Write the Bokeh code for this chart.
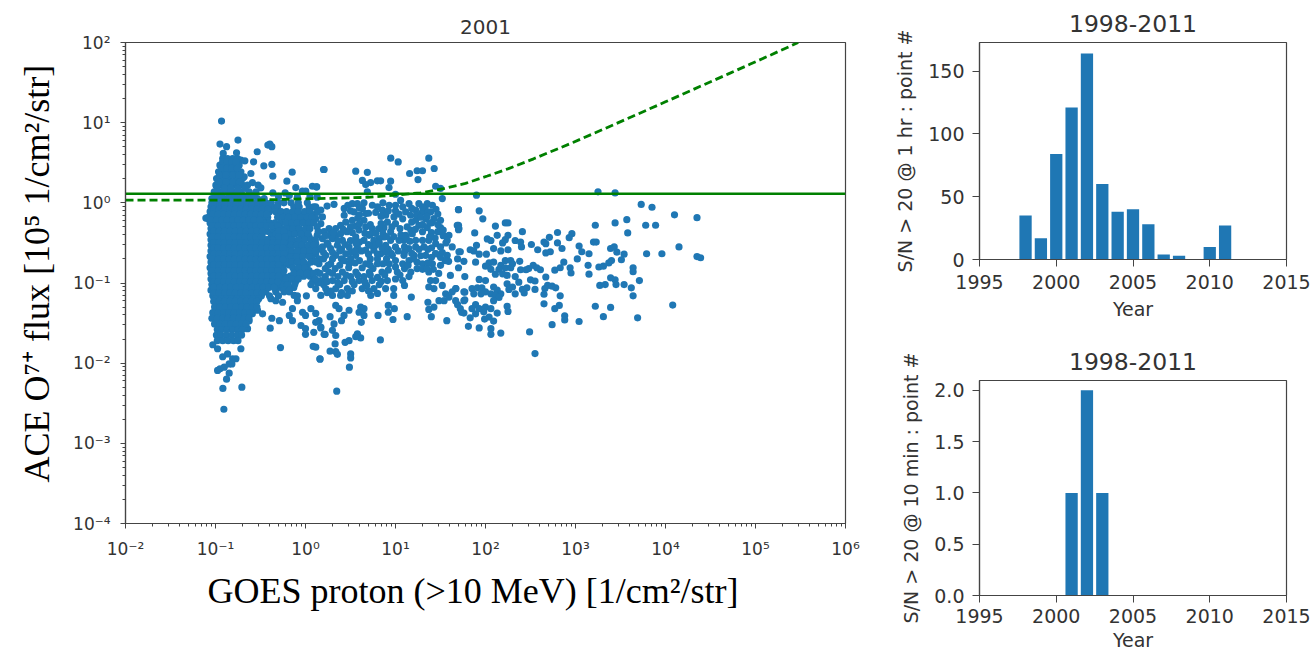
from bokeh.embed import file_html
from bokeh.resources import INLINE
from bokeh.plotting import figure
from bokeh.layouts import row, column
from bokeh.models import Range1d, Title, FixedTicker

# Values; scatter values are stored as log10(value).
title_main = "2001"
xlabel_main = "GOES proton (>10 MeV) [1/cm²/str]"
ylabel_main = "ACE O⁷⁺ flux [10⁵ 1/cm²/str]"
title_side = "1998-2011"
ylabel_top = "S/N > 20 @ 1 hr : point #"
ylabel_bottom = "S/N > 20 @ 10 min : point #"
xlabel_side = "Year"

years = [1998, 1999, 2000, 2001, 2002, 2003, 2004, 2005, 2006, 2007, 2008, 2009, 2010, 2011]
counts_1hr = [35, 17, 84, 121, 164, 60, 38, 40, 28, 4, 3, 0, 10, 27]
counts_10min = [0, 0, 0, 1, 2, 1, 0, 0, 0, 0, 0, 0, 0, 0]

threshold_x = [0.01, 1e6]
threshold_y = [1.3, 1.3]
fit_x = [0.01, 0.25, 4.9, 19, 34, 60, 105, 180, 342, 600, 950, 2000, 4400, 10000, 24400, 50000, 87700, 150000, 298000]
fit_y = [1.08, 1.08, 1.17, 1.33, 1.5, 1.75, 2.16, 2.67, 3.54, 4.6, 5.7, 8.2, 12.1, 18.2, 28.4, 40.6, 53.8, 70.4, 100]

right_cloud = [
(3.25,.137),(3.44,.124),(1.90,.095),(3.73,-.02),(3.85,-.055),(4.10,-.15),(4.35,-.185),(1.70,-.085),(1.93,-.10),(1.97,-.20),
(3.22,-.28),(3.44,-.25),(3.57,-.21),(3.78,-.28),(3.89,-.28),(3.58,-.375),(2.11,-.29),(2.22,-.25),(2.25,-.25),(2.41,-.36),
(1.88,-.375),(1.70,-.28),(1.70,-.335),(2.13,-.405),(2.25,-.405),(2.80,-.37),(2.71,-.43),(2.96,-.385),(2.93,-.435),(2.65,-.49),
(2.67,-.51),(2.80,-.50),(2.85,-.57),(2.51,-.52),(2.58,-.585),(3.20,-.49),(3.23,-.49),(3.04,-.54),(3.39,-.57),(3.43,-.55),
(3.46,-.615),(3.54,-.64),(3.51,-.71),(4.15,-.55),(3.79,-.635),(3.96,-.635),(4.35,-.67),(4.39,-.685),(3.07,-.61),(3.15,-.635),
(3.02,-.70),(2.67,-.625),(2.72,-.61),(3.14,-.78),(3.26,-.80),(3.31,-.79),(3.37,-.75),(3.40,-.72),(3.64,-.81),(3.64,-.86),
(2.94,-.81),(2.95,-.875),(2.87,-.74),(2.83,-.81),(2.77,-.84),(3.15,-.89),(3.71,-.97),(3.39,-.935),(3.44,-.96),(3.45,-1.02),
(3.54,-1.02),(3.27,-1.03),(3.33,-1.02),(3.62,-1.06),(3.64,-1.16),(2.67,-.925),(2.69,-1.03),(2.74,-1.04),(2.78,-1.06),(2.66,-1.07),
(2.65,-1.14),(2.83,-1.16),(2.65,-1.26),(2.82,-1.28),(2.77,-1.32),(3.22,-1.29),(3.39,-1.305),(4.08,-1.275),(3.31,-1.42),(3.69,-1.435),
(2.88,-1.41),(2.88,-1.46),(3.04,-1.48),(2.74,-1.52),(2.49,-1.61),(2.55,-1.88),(2.17,-1.625),(2.06,-1.57),(2.06,-1.64),(1.93,-1.56),
(1.81,-1.54),(2.02,-.45),(2.06,-.47),(2.09,-.57),(2.17,-.60),(2.25,-.585),(2.19,-.50),(2.22,-.46),(2.33,-.47),(2.39,-.49),
(2.40,-.55),(1.90,-.53),(1.83,-.585),(1.87,-.60),(1.93,-.64),(2.01,-.64),(1.89,-.74),(1.72,-.61),(1.76,-.73),(1.69,-.70),
(1.70,-.81),(1.77,-.92),(2.38,-.73),(2.04,-.75),(2.09,-.74),(2.0,-.79),(2.17,-.78),(2.22,-.72),(2.28,-.72),(2.30,-.76),
(2.22,-.81),(2.15,-.83),(2.06,-.83),(2.11,-.89),(2.19,-.885),(2.24,-.905),(2.28,-.81),(2.39,-.835),(2.45,-.835),(2.53,-.78),
(2.57,-.81),(2.48,-.82),(2.61,-.835),(1.93,-.955),(2.0,-.97),(2.33,-.92),(2.37,-.99),(2.50,-.96),(2.55,-.975),(2.24,-1.01),
(2.30,-1.05),(2.26,-1.08),(2.33,-1.135),(2.41,-1.08),(2.46,-1.06),(2.55,-1.08),(2.43,-1.125),(1.85,-1.07),(1.91,-1.06),(1.96,-1.06),
(2.09,-1.05),(2.13,-1.09),(2.17,-1.135),(2.0,-1.11),(2.06,-1.135),(2.11,-1.155),(2.15,-1.18),(1.95,-1.135),(1.87,-1.135),(1.77,-1.115),
(1.77,-1.21),(1.67,-1.07),(2.09,-1.22),(1.69,-1.27),(1.72,-1.32),(1.76,-1.375),(1.89,-1.27),(1.85,-1.32),(1.93,-1.32),(2.0,-1.30),
(2.06,-1.32),(2.13,-1.375),(1.98,-1.36),(1.89,-1.385),(1.83,-1.435),(2.04,-1.425),(2.09,-1.475),(1.99,-1.45),(2.24,-1.29),(2.25,-1.355),
]

middle_cloud = [
(.947,.557),(1.03,.51),(1.37,.557),(.207,.416),(.558,.395),(.687,.38),(1.157,.366),(1.24,.40),(1.30,.40),(1.43,.428),
(1.25,.29),(.632,.28),(.669,.228),(.724,.253),(.798,.274),(.835,.274),(.946,.27),(.928,.19),(.687,.137),(.125,.2),
(1.446,.207),(1.50,.18),(1.0,.107),(1.057,.03),(1.52,.053),(.317,-.018),(1.70,-.084),
(.114,-.05),(.17,-.09),(.188,-.176),(.114,-.197),(.17,-.26),(.43,-.07),(.43,-.155),(.447,-.24),(.39,-.28),(.336,-.32),(.262,-.32),
(.206,-.36),(.262,-.405),(.336,-.405),(.39,-.385),(.188,-.446),(.299,-.446),(.13,-.405),(.52,-.01),(.576,-.01),(.54,-.113),
(.632,-.07),(.743,-.03),(.854,-.09),(.669,-.134),(.65,-.217),(.669,-.30),(.558,-.29),(.595,-.34),(.891,-.155),(.91,-.24),
(.872,-.31),(.743,-.32),(.817,-.32),(.983,-.176),(1.0,-.26),(.946,-.36),(1.113,-.113),(1.168,-.155),(1.224,-.09),(1.15,-.01),
(1.26,-.01),(1.353,-.01),(1.41,-.03),(1.30,-.113),(1.39,-.113),(1.335,-.197),(1.427,-.197),(1.50,-.217),(1.224,-.217),(1.26,-.28),
(1.353,-.31),(1.30,-.36),(1.13,-.30),(1.113,-.405),(1.187,-.385),(1.094,-.468),(1.224,-.468),(1.594,-.405),(1.575,-.468),(1.63,-.55),
(1.705,-.61),(1.686,-.28),(1.705,-.32),(1.50,-.31),(1.30,-.468),(1.37,-.468),(1.446,-.51),(1.316,-.55),(1.446,-.635),(1.224,-.55),
(1.15,-.57),(1.04,-.468),(1.0,-.55),(.946,-.468),(.87,-.425),(.891,-.53),(.817,-.446),(.76,-.468),(.706,-.405),(.65,-.468),
(.558,-.425),(.484,-.55),(.576,-.55),(.41,-.468),(.447,-.635),(.354,-.53),(.28,-.57),(.188,-.55),(.114,-.51),(.114,-.635),
(.669,-.59),(.76,-.59),(.835,-.635),(.965,-.655),(1.094,-.655),(1.205,-.655),(1.335,-.655),(1.575,-.655),(.336,-.655),(.225,-.655),(.558,-.655),
(.15,-.76),(.28,-.76),(.485,-.76),(.67,-.76),(.80,-.76),(.93,-.76),(1.08,-.76),(1.30,-.76),(1.41,-.76),
(.13,-.863),(.26,-.863),(.41,-.863),(.56,-.863),(.71,-.863),(.85,-.863),(1.02,-.863),(1.17,-.863),(1.37,-.863),
(.17,-.97),(.30,-.97),(.43,-.97),(.595,-.97),(.74,-.97),(.91,-.97),(1.08,-.97),(1.39,-.97),
(.114,-1.07),(.225,-1.07),(.336,-1.07),(.465,-1.07),(.63,-1.07),(.76,-1.07),(.89,-1.07),(.98,-1.07),
(.17,-1.155),(.30,-1.155),(.39,-1.155),(.465,-1.155),(.725,-1.155),(.98,-1.155),
(1.10,-1.03),(1.176,-1.176),(1.59,-.73),(1.446,-.634),(1.61,-.905),(1.446,-.97),(1.37,-1.05),(1.427,-1.07),(1.52,-1.03),(1.67,-1.07),
(1.557,-1.135),(1.63,-1.11),(1.483,-1.22),(1.54,-1.22),(1.594,-1.176),(1.668,-1.22),(1.76,-1.11),(1.76,-1.22),(1.36,-1.24),(1.37,-1.33),
(1.427,-1.30),(1.398,-1.42),(1.735,-1.365),(1.57,-1.47),(1.13,-1.42),(.972,-1.455),(.987,-1.32),(.92,-1.28),(.92,-1.365),(.806,-1.405),
(.613,-1.30),(.65,-1.32),(.595,-1.365),(.65,-1.405),(.62,-1.49),(.484,-1.34),(.428,-1.405),(.40,-1.47),(.336,-1.28),(.373,-1.32),
(.273,-1.42),(.317,-1.51),(.299,-1.59),(.218,-1.64),(.336,-1.655),(.577,-1.635),(.613,-1.685),(.558,-1.67),(.832,-1.71),(.484,-1.72),
(.44,-1.74),(.329,-1.76),(.273,-1.85),(.336,-1.855),(.354,-1.89),(.162,-1.95),(.502,-1.885),(.502,-1.935),(.488,-2.05),(.347,-2.35),
(.114,-1.38),(.151,-1.47),(.17,-1.56),(.114,-1.80),
]

middle_fill = [
(.50,-.10),(.58,-.19),(.52,-.22),(.60,-.26),(.50,-.30),(.46,-.36),(.52,-.37),(.66,-.38),(.72,-.39),(.78,-.38),(.86,-.38),(.70,-.13),
(.72,-.27),(.92,-.10),(1.0,-.10),(1.0,-.03),(.86,-.0),(.93,-.03),(1.08,-.05),(1.08,-.2),(1.04,-.14),(1.18,-.07),(1.18,-.24),(1.24,-.15),
(1.28,-.18),(1.33,-.06),(1.36,-.12),(1.45,-.08),(1.47,-.14),(1.40,-.25),(1.47,-.27),(1.40,-.37),(1.47,-.36),(1.53,-.41),
(.2,-.62),(.3,-.62),(.4,-.58),(.5,-.62),(.5,-.47),(.6,-.49),(.62,-.6),(.72,-.53),(.78,-.53),(.85,-.56),(.92,-.58),(.95,-.63),(1.03,-.6),
(1.1,-.55),(1.16,-.48),(1.18,-.63),(1.26,-.58),(1.36,-.58),(1.4,-.56),(1.5,-.55),(1.52,-.62),(1.55,-.72),(1.5,-.78),(.2,-.7),(.3,-.7),
(.4,-.7),(.5,-.7),(.6,-.72),(.72,-.7),(.8,-.7),(.9,-.7),(1.0,-.72),(1.15,-.72),(1.24,-.74),(1.36,-.75),(.22,-.82),(.33,-.82),(.48,-.81),
(.63,-.81),(.75,-.82),(.92,-.84),(1.1,-.82),(1.24,-.82),(1.3,-.83),(.22,-.92),(.36,-.92),(.5,-.92),(.65,-.92),(.8,-.93),(1.0,-.95),
(.2,-1.02),(.38,-1.02),(.54,-1.02),(.68,-1.03),(.82,-1.02),(.24,-1.12),(.4,-1.12),(.8,-1.13),
(.13,-.30),(.13,-.12),(.24,-.04),(.14,-.36),(.22,-.41),(.31,-.37),(.42,-.33),(.47,-.03),(.60,-.06),(.65,.0),(.80,-.05),(.78,-.12),
(.84,-.17),(.60,-.15),(.84,-.26),(.96,-.3),(1.05,-.32),(1.06,-.4),(.98,-.42),(.9,-.42),(.82,-.5),(.7,-.52),(.56,-.5),(.44,-.52),
(.36,-.47),(.24,-.5),(.14,-.58),(.25,-.52),(.38,-.6),(.55,-.6),(.7,-.64),(.8,-.64),(.9,-.62),(1.1,-.62),(1.28,-.66),(1.4,-.68),
(1.5,-.68),(.15,-.7),(.25,-.78),(.38,-.78),(.43,-.72),(.55,-.75),(.72,-.78),(.86,-.76),(1.0,-.8),(1.14,-.78),(1.2,-.7),(1.35,-.82),
(1.42,-.83),(1.48,-.88),(.16,-.88),(.3,-.88),(.45,-.9),(.58,-.9),(.72,-.9),(.88,-.9),(1.05,-.9),(1.15,-.92),(.24,-.98),(.36,-1.0),
(.52,-.98),(.66,-.99),(.84,-.98),(.14,-1.0),(.28,-1.1),(.52,-1.1),(.7,-1.1),(1.12,-.42),(1.3,-.27),(1.38,-.25),(1.3,-.05),(1.35,-.17),
(1.17,-.34),(1.22,-.33),(1.44,-.44),(1.38,-.42),(1.53,-.34),(1.56,-.5),
]

center_fill = [
(-.18,-.145),(-.10,-.145),(-.02,-.145),(.07,-.145),(-.17,-.215),(-.09,-.215),(-.01,-.215),(.06,-.215),(-.18,-.285),(-.11,-.285),
(.02,-.285),(-.16,-.355),(-.09,-.355),(-.02,-.355),(-.17,-.425),(-.03,-.425),(.04,-.425),(-.18,-.495),
(-.11,-.495),(-.04,-.495),(.09,-.495),(-.19,-.565),(-.07,-.565),(0,-.565),(.06,-.565),(-.18,-.635),
(-.12,-.635),(-.06,-.635),(.01,-.635),(.08,-.635),(-.18,-.705),(-.12,-.705),(-.06,-.705),(.08,-.705),(-.24,-.775),
(-.18,-.775),(-.05,-.775),(.02,-.775),(-.24,-.845),(-.10,-.845),(-.03,-.845),(.04,-.845),(-.24,-.915),(-.17,-.915),
(-.09,-.915),(-.02,-.915),(.05,-.915),(-.25,-.985),(-.19,-.985),(-.11,-.985),(.08,-.985),(-.27,-1.055),(-.20,-1.055),(-.13,-1.055),
(-.42,-.355),(-.36,-.39),(-.38,-.42),(-.42,-.46),(-.36,-.33),(-.42,-.18),(-.42,-.25),
]

left_top = [
(-.933,1.02),(-.95,.733),(-.877,.70),(-.75,.783),(-.766,.624),(-.537,.637),(-.418,.72),(-.396,.733),(-.374,.70),(-.914,.616),
(-.718,.532),(-.674,.524),(-.577,.512),(-.463,.462),(-.374,.48),(-.607,.366),(-.363,.333),(-.148,.383),(-.207,.27),(.20,.416),
(-.589,.253),(-.526,.22),(-.496,.187),(-.108,.19),(-.363,.124),(.077,.207),(.122,.2),(-.034,.145),(.003,.145),(-.226,.124),(-.681,.324),
(-.92,.553),(-.866,.553),(-.81,.553),(-.755,.553),
(-.951,.47),(-.903,.47),(-.848,.47),(-.79,.47),(-.737,.47),(-.92,.51),(-.87,.51),(-.82,.51),(-.77,.51),
(-.966,.387),(-.903,.387),(-.848,.387),(-.79,.387),(-.718,.387),(-.93,.43),(-.875,.43),(-.82,.43),(-.76,.43),
(-.988,.303),(-.92,.303),(-.848,.303),(-.773,.303),(-.70,.303),(-.955,.345),(-.885,.345),(-.81,.345),(-.74,.345),
(-.996,.22),(-.92,.22),(-.848,.22),(-.773,.22),(-.70,.22),(-.644,.22),(-.96,.26),(-.885,.26),(-.81,.26),(-.735,.26),
(-1.014,.137),(-.94,.137),(-.866,.137),(-.79,.137),(-.718,.137),(-.626,.137),(-.55,.137),(-.98,.18),(-.90,.18),(-.83,.18),(-.75,.18),(-.67,.18),
(-1.04,.053),(-.977,.053),(-.903,.053),(-.829,.053),(-.755,.053),(-.68,.053),(-.607,.053),(-.533,.053),(-.459,.053),
(-1.0,.095),(-.93,.095),(-.85,.095),(-.78,.095),(-.70,.095),(-.63,.095),(-.57,.095),
(-.30,.08),(-.18,.09),(-.09,.07),(.05,.08),(.13,.07),
]

left_rows_ly = [.0, -.05, -.11, -.18, -.25, -.32, -.39, -.46, -.53, -.60, -.67, -.74, -.81, -.88, -.95, -1.02, -1.09, -1.16]
left_rows_lx = [
[-1.04,-.98,-.92,-.86,-.80,-.74,-.68,-.62,-.56,-.50,-.44,-.38,-.30,-.24,-.16,-.08,.02],
[-1.05,-.99,-.93,-.87,-.81,-.75,-.69,-.63,-.57,-.51,-.45,-.37,-.31,-.13,-.07,.04,.09],
[-1.06,-1.0,-.94,-.88,-.82,-.76,-.70,-.64,-.58,-.52,-.46,-.40,-.33,-.27,-.21,-.14,-.08,-.01,.05],
[-1.08,-1.02,-.96,-.90,-.84,-.78,-.72,-.66,-.60,-.54,-.48,-.31,-.25,-.19,-.12,-.05,.02,.07],
[-1.06,-1.0,-.94,-.88,-.82,-.76,-.70,-.64,-.58,-.52,-.46,-.40,-.34,-.28,-.22,-.15,-.09,-.03,.04,.09],
[-1.05,-.99,-.93,-.87,-.81,-.75,-.69,-.63,-.57,-.51,-.45,-.33,-.27,-.21,-.14,-.07,.0,.05],
[-1.06,-1.0,-.94,-.88,-.82,-.76,-.70,-.64,-.58,-.52,-.48,-.33,-.26,-.19,-.12,-.05,.03],
[-1.05,-.99,-.93,-.87,-.81,-.75,-.69,-.63,-.57,-.51,-.45,-.36,-.29,-.22,-.15,-.08,-.01,.06,.11],
[-1.05,-1.0,-.94,-.88,-.82,-.76,-.70,-.64,-.58,-.52,-.46,-.40,-.34,-.28,-.22,-.16,-.10,-.04,.03,.09],
[-1.05,-.99,-.93,-.87,-.81,-.75,-.69,-.63,-.57,-.51,-.45,-.39,-.33,-.27,-.21,-.15,-.09,-.02,.05,.11],
[-1.06,-1.0,-.94,-.88,-.82,-.76,-.70,-.64,-.58,-.52,-.46,-.40,-.34,-.28,-.22,-.16,-.10,-.03,.04],
[-1.05,-.99,-.93,-.87,-.81,-.75,-.69,-.63,-.57,-.51,-.45,-.39,-.33,-.27,-.21,-.15,-.09,-.02,.06,.12],
[-1.06,-1.0,-.94,-.88,-.82,-.76,-.70,-.64,-.58,-.52,-.46,-.40,-.34,-.28,-.14,-.08,-.01],
[-1.05,-.99,-.93,-.87,-.81,-.75,-.69,-.63,-.57,-.51,-.45,-.39,-.33,-.26,-.13,-.06,.02,.09],
[-1.05,-1.0,-.94,-.88,-.82,-.76,-.70,-.64,-.58,-.52,-.46,-.40,-.34,-.28,-.22,-.15,-.08,.11],
[-1.04,-.98,-.92,-.86,-.80,-.74,-.68,-.62,-.56,-.50,-.44,-.38,-.32,-.26,-.20,-.12,.06],
[-1.05,-.99,-.93,-.87,-.81,-.75,-.69,-.63,-.57,-.51,-.47,-.33,-.24,-.18],
[-1.03,-.97,-.91,-.85,-.79,-.73,-.67,-.61,-.55,-.49,-.40,-.30,-.09,.01],
]

left_fill_ly = [-.02, -.08, -.145, -.215, -.285, -.355, -.425, -.495, -.565, -.635, -.705, -.775, -.845, -.915, -.985, -1.055, -1.125, -1.195, -1.265, -1.335, -1.405, -1.475, -1.545]
left_fill_lx = [
[-1.01,-.95,-.89,-.83,-.77,-.71,-.65,-.59,-.53,-.47,-.41],
[-1.02,-.96,-.90,-.84,-.78,-.72,-.66,-.60,-.54,-.48,-.42],
[-1.03,-.97,-.91,-.85,-.79,-.73,-.67,-.61,-.55,-.49,-.43],
[-1.05,-.99,-.93,-.87,-.81,-.75,-.69,-.63,-.57,-.51],
[-1.03,-.97,-.91,-.85,-.79,-.73,-.67,-.61,-.55,-.49,-.43,-.37,-.31],
[-1.02,-.96,-.90,-.84,-.78,-.72,-.66,-.60,-.54,-.48,-.30,-.24],
[-1.03,-.97,-.91,-.85,-.79,-.73,-.67,-.61,-.55,-.49,-.30,-.23],
[-1.02,-.96,-.90,-.84,-.78,-.72,-.66,-.60,-.54,-.48,-.42,-.36,-.30,-.24],
[-1.02,-.97,-.91,-.85,-.79,-.73,-.67,-.61,-.55,-.49,-.43,-.37,-.31,-.25],
[-1.02,-.96,-.90,-.84,-.78,-.72,-.66,-.60,-.54,-.48,-.42,-.36,-.30,-.24],
[-1.03,-.97,-.91,-.85,-.79,-.73,-.67,-.61,-.55,-.49,-.43,-.37,-.31,-.25],
[-1.02,-.96,-.90,-.84,-.78,-.72,-.66,-.60,-.54,-.48,-.42,-.36,-.30],
[-1.03,-.97,-.91,-.85,-.79,-.73,-.67,-.61,-.55,-.49,-.43,-.37,-.31],
[-1.02,-.96,-.90,-.84,-.78,-.72,-.66,-.60,-.54,-.48,-.42,-.36,-.30],
[-1.02,-.97,-.91,-.85,-.79,-.73,-.67,-.61,-.55,-.49,-.43,-.37,-.31],
[-1.02,-.95,-.89,-.83,-.77,-.71,-.65,-.59,-.53,-.47,-.41,-.35],
[-1.02,-.96,-.90,-.84,-.78,-.72,-.66,-.60,-.54,-.48],
[-1.0,-.94,-.88,-.82,-.76,-.70,-.64,-.58,-.52],
[-.99,-.93,-.87,-.81,-.75,-.69,-.63,-.57],
[-1.0,-.94,-.88,-.82,-.76,-.70,-.64,-.60],
[-1.01,-.95,-.89,-.83,-.77,-.71,-.65],
[-1.0,-.94,-.88,-.82,-.76,-.70,-.66],
[-.97,-.91,-.85,-.79,-.73,-.68],
]

left_column_ly = [-1.23, -1.30, -1.37, -1.44, -1.51, -1.58, -1.65, -1.72]
left_column_lx = [
[-1.02,-.96,-.90,-.84,-.78,-.72,-.66,-.60,-.54],
[-1.01,-.95,-.89,-.83,-.77,-.71,-.65,-.59,-.54],
[-1.03,-.97,-.91,-.85,-.79,-.73,-.67,-.62],
[-1.04,-.98,-.92,-.86,-.80,-.74,-.68,-.63],
[-1.01,-.95,-.89,-.83,-.77,-.71,-.66],
[-.98,-.93,-.87,-.81,-.75,-.70],
[-.99,-.94,-.88,-.82,-.76,-.71],
[-.98,-.92,-.86,-.80,-.75],
]

left_bottom = [
(-1.08,-.197),(-1.107,-.19),(-1.03,-1.77),(-.977,-1.82),(-.718,-1.82),(-.92,-1.92),(-.866,-1.885),(-.81,-1.945),(-.773,-1.945),(-.848,-2.01),
(-.818,-2.01),(-.903,-2.05),(-.977,-2.09),(-.95,-2.07),(-.848,-2.125),(-.877,-2.2),(-.918,-2.315),(-.707,-2.30),(-.907,-2.575),(-.278,-1.805),
(-.392,-1.563),(.085,-1.79),(.16,-1.945),(-.644,-1.57),(-.374,-1.44),(-.29,-1.47),(-.477,-1.385),(-.533,-1.34),(-.626,-1.47),(-.59,-1.385),
(-.126,-1.155),(-.18,-1.11),(-.09,-1.22),(-.145,-1.32),(-.18,-1.405),(-.145,-1.47),(-.033,-1.365),(.06,-1.32),(0,-1.405),(-.05,-1.53),
(0,-1.57),(0,-1.64),(.092,-1.615),(.114,-1.49),(.17,-1.55),(.207,-1.64),(-.255,-1.24),(-.33,-1.22),(-.385,-1.195),(-.44,-1.11),
(-.33,-1.11),(-.237,-1.11),
]

BLUE = "#1f77b4"
GREEN = "#008000"
TXT = "#333333"
AX = "#444444"

pairs = right_cloud + middle_cloud + middle_fill + center_fill + left_top + left_bottom
scatter_lx = [a for a, _ in pairs]
scatter_ly = [b for _, b in pairs]
for ly, xs in list(zip(left_rows_ly, left_rows_lx)) + list(zip(left_fill_ly, left_fill_lx)) + list(zip(left_column_ly, left_column_lx)):
    scatter_lx += xs
    scatter_ly += [ly] * len(xs)
scatter_x = [10 ** v for v in scatter_lx]
scatter_y = [10 ** v for v in scatter_ly]

SUP = str.maketrans("-0123456789", "⁻⁰¹²³⁴⁵⁶⁷⁸⁹")
def pow_label(n):
    return "10" + str(n).translate(SUP)


def style_axis(ax, size):
    ax.axis_line_color = AX
    ax.axis_line_width = 1.2
    ax.major_tick_line_color = AX
    ax.minor_tick_line_color = AX
    ax.major_label_text_color = TXT
    ax.major_label_text_font = "DejaVu Sans"
    ax.major_label_text_font_size = size
    ax.axis_label_text_color = TXT
    ax.axis_label_text_font = "DejaVu Sans"
    ax.axis_label_text_font_style = "normal"


main = figure(width=860, height=653, x_axis_type="log", y_axis_type="log",
              x_range=Range1d(0.01, 1e6), y_range=Range1d(1e-4, 100),
              output_backend="svg", toolbar_location=None,
              min_border_left=124, min_border_right=15, min_border_top=42, min_border_bottom=130,
              title=title_main)
main.title.align = "center"
main.title.text_font = "DejaVu Sans"
main.title.text_font_style = "normal"
main.title.text_font_size = "20px"
main.title.text_color = TXT
main.title.standoff = 17
main.grid.visible = False
main.outline_line_color = AX
main.outline_line_width = 1.2
for ax in (main.xaxis[0], main.yaxis[0]):
    style_axis(ax, "17px")
    ax.major_tick_in = 0
    ax.major_tick_out = 5
    ax.minor_tick_in = 0
    ax.minor_tick_out = 3
    ax.major_label_standoff = 10
main.xaxis[0].ticker.desired_num_ticks = 8
main.xaxis[0].major_label_overrides = {10.0 ** n: pow_label(n) for n in range(-2, 7)}
main.yaxis[0].major_label_overrides = {10.0 ** n: pow_label(n) for n in range(-4, 3)}

main.scatter(scatter_x, scatter_y, size=7.2, color=BLUE, line_color=None)
main.line(threshold_x, threshold_y, color=GREEN, line_width=2.4)
main.line(fit_x, fit_y, color=GREEN, line_width=2.8, line_dash="8 4")

main.add_layout(Title(text=xlabel_main, align="left", offset=82, standoff=15,
                      text_font="Liberation Serif", text_font_size="36px", text_font_style="normal",
                      text_color="#000000"), "below")
main.add_layout(Title(text=ylabel_main, align="left", offset=41, standoff=28,
                      text_font="Liberation Serif", text_font_size="36px", text_font_style="normal",
                      text_color="#000000"), "left")


def side(values, h, top, bottom, ymax, yticks, ylabel, tick_gap, label_gap, over=None):
    p = figure(width=452, height=h, x_range=Range1d(1995, 2015), y_range=Range1d(0, ymax),
               output_backend="svg", toolbar_location=None,
               min_border_left=119, min_border_right=26, min_border_top=top, min_border_bottom=bottom,
               title=title_side)
    p.title.align = "center"
    p.title.text_font = "DejaVu Sans"
    p.title.text_font_style = "normal"
    p.title.text_font_size = "23.5px"
    p.title.text_color = TXT
    p.title.standoff = 21
    p.grid.visible = False
    p.outline_line_color = AX
    p.outline_line_width = 1.2
    for ax in (p.xaxis[0], p.yaxis[0]):
        style_axis(ax, "19px")
        ax.major_tick_in = 0
        ax.major_tick_out = 7
        ax.minor_tick_line_color = None
        ax.major_label_standoff = 8
        ax.axis_label_text_font_size = "19px"
    p.xaxis[0].major_label_standoff = tick_gap
    p.xaxis[0].axis_label_standoff = label_gap
    p.xaxis[0].ticker = FixedTicker(ticks=[1995, 2000, 2005, 2010, 2015])
    p.yaxis[0].ticker = FixedTicker(ticks=yticks)
    p.xaxis[0].axis_label = xlabel_side
    p.yaxis[0].axis_label = ylabel
    p.yaxis[0].axis_label_standoff = 9
    if over:
        p.yaxis[0].major_label_overrides = over
    p.vbar(x=years, top=values, width=0.8, color=BLUE, line_color=None)
    return p


top = side(counts_1hr, 340, 42, 81, 172.7, [0, 50, 100, 150], ylabel_top, 8, 6)
bottom = side(counts_10min, 313, 39, 57, 2.096, [0, 0.5, 1, 1.5, 2], ylabel_bottom, 6, 3,
              {0: "0.0", 0.5: "0.5", 1: "1.0", 1.5: "1.5", 2: "2.0"})

page = row(main, column(top, bottom, spacing=0), spacing=0)
open("out.html", "w").write(file_html(page, INLINE))
